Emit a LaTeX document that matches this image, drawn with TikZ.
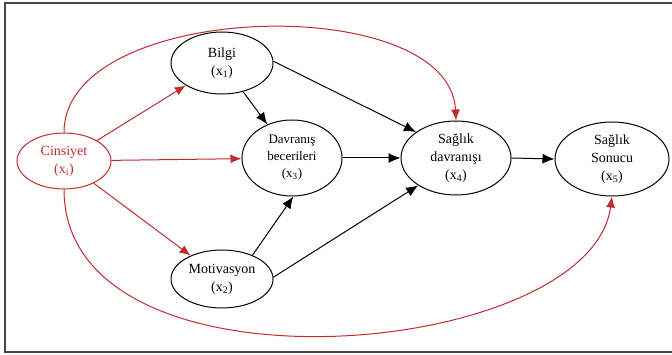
\documentclass[tikz,border=0pt]{standalone}
\usepackage{fontspec}
\setmainfont{Liberation Serif}
\usetikzlibrary{shapes.geometric,arrows.meta}
\definecolor{cred}{RGB}{192,43,45}
\definecolor{frame}{RGB}{70,70,70}
\tikzset{
  ell/.style={ellipse, draw=black, line width=1pt, inner sep=0pt, align=center, font=\fontsize{14}{18}\selectfont},
  redell/.style={ell, draw=cred, text=cred},
  blk/.style={line width=1pt, -{Latex[length=12pt,width=10pt]}},
  rdar/.style={line width=1pt, draw=cred, -{Latex[length=11pt,width=9pt]}, color=cred},
}
\begin{document}
\begin{tikzpicture}[x=1pt,y=-1pt]
\useasboundingbox (0,0) rectangle (672,355);
\draw[frame, line width=1.4pt] (680,3) -- (5,3) -- (5,352) -- (680,352);
\node[redell, minimum width=94pt, minimum height=56pt] (cin) at (64,161) {Cinsiyet\\(x\textsubscript{i})};
\node[ell, minimum width=102pt, minimum height=62pt] (bil) at (222,63) {Bilgi\\(x\textsubscript{1})};
\node[ell, minimum width=100pt, minimum height=76pt, font=\fontsize{13}{17}\selectfont] (dav) at (292,158) {Davranış\\becerileri\\(x\textsubscript{3})};
\node[ell, minimum width=110pt, minimum height=74pt] (sd) at (456,158) {Sağlık\\davranışı\\(x\textsubscript{4})};
\node[ell, minimum width=114pt, minimum height=74pt] (son) at (612,159) {Sağlık\\Sonucu\\(x\textsubscript{5})};
\node[ell, minimum width=102pt, minimum height=58pt] (mot) at (222,279) {Motivasyon\\(x\textsubscript{2})};
% red arrows
\draw[rdar] (cin) -- (bil);
\draw[rdar] (cin) -- (dav);
\draw[rdar] (cin) -- (mot);
\draw[rdar] (cin.north) .. controls (64,0) and (450,-10) .. (sd.north);
\draw[rdar] (cin.south) .. controls (64,405) and (590,360) .. (son.south);
% black arrows
\draw[blk] (bil) -- (dav);
\draw[blk] (bil.2) -- (sd.147);
\draw[blk] (mot.38) -- (dav.-88);
\draw[blk] (mot.2) -- (sd.-144);
\draw[blk] (dav.east) -- (sd.west);
\draw[blk] (sd.east) -- (son.west);
\end{tikzpicture}
\end{document}
